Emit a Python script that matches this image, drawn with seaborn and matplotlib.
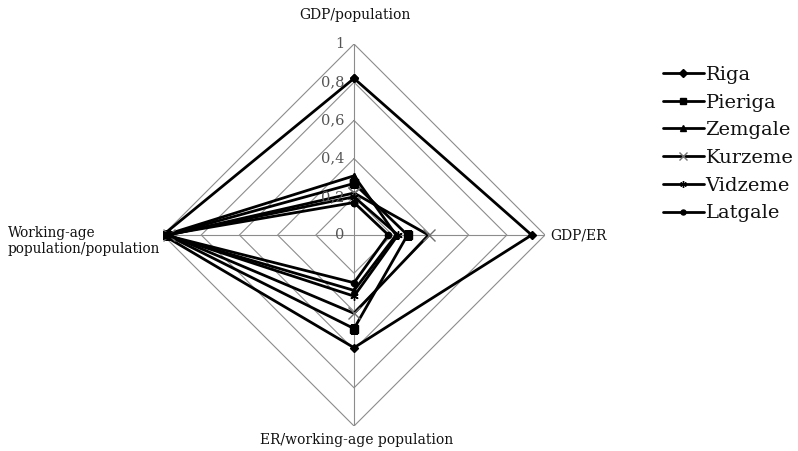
#!/usr/bin/env python3
"""Radar chart of regional indicators (Latvia), four axes, scale 0-1."""

import numpy as np
import pandas as pd
import matplotlib
matplotlib.use("Agg")
import matplotlib.pyplot as plt
import seaborn as sns

# Data
AXES = ["GDP/population", "GDP/ER", "ER/working-age population",
        "Working-age\npopulation/population"]
REGIONS = ["Riga", "Pieriga", "Zemgale", "Kurzeme", "Vidzeme", "Latgale"]
riga = [0.82, 0.93, 0.59, 1.00]
pieriga = [0.27, 0.28, 0.49, 0.98]
zemgale = [0.31, 0.22, 0.29, 0.99]
kurzeme = [0.22, 0.39, 0.41, 0.97]
vidzeme = [0.20, 0.23, 0.32, 0.98]
latgale = [0.17, 0.18, 0.25, 0.99]
TICKS = [0, 0.2, 0.4, 0.6, 0.8, 1]
TICK_LABELS = ["0", "0,2", "0,4", "0,6", "0,8", "1"]

SERIES = [riga, pieriga, zemgale, kurzeme, vidzeme, latgale]
MARKERS = {"Riga": "D", "Pieriga": "s", "Zemgale": "^",
           "Kurzeme": "x", "Vidzeme": (6, 2, 0), "Latgale": "o"}
MSIZE = {"Riga": 4.5, "Pieriga": 5.5, "Zemgale": 5, "Kurzeme": 8,
         "Vidzeme": 6, "Latgale": 4.5}

sns.set_style("white")
plt.rcParams["font.family"] = ["DejaVu Serif"]
plt.rcParams["text.color"] = "#111111"

angles = np.array([0, 0.5, 1.0, 1.5]) * np.pi
closed = np.append(angles, 2 * np.pi)

rows = []
for name, vals in zip(REGIONS, SERIES):
    for th, v in zip(closed, vals + vals[:1]):
        rows.append({"theta": th, "r": v, "region": name})
df = pd.DataFrame(rows)

fig = plt.figure(figsize=(7.98, 4.51), dpi=100)
ax = fig.add_axes([0.2043, 0.0554, 0.4787, 0.847], projection="polar")
ax.set_theta_zero_location("N")
ax.set_theta_direction(-1)
ax.set_ylim(0, 1)
ax.grid(False)
ax.spines["polar"].set_visible(False)
ax.set_xticks([])
ax.set_yticks([])

# diamond grid and spokes
for t in TICKS[1:]:
    ax.plot(closed, [t] * 5, color="#8c8c8c", lw=0.8, zorder=1)
for th in angles:
    ax.plot([th, th], [0, 1], color="#8c8c8c", lw=0.8, zorder=1)

n_before = len(ax.lines)
sns.lineplot(data=df, x="theta", y="r", hue="region",
             palette=["black"] * 6, sort=False, estimator=None,
             linewidth=2.0, legend=False, ax=ax, zorder=3)
lines = ax.lines[n_before:]
for ln, name in zip(lines, REGIONS):
    ln.set_marker(MARKERS[name])
    ln.set_markersize(MSIZE[name])
    ln.set_markerfacecolor("black")
    ln.set_markeredgecolor("#707070" if name == "Kurzeme" else "black")
    ln.set_markeredgewidth(1.0)
ax.set_xlabel("")
ax.set_ylabel("")

for t, lab in zip(TICKS, TICK_LABELS):
    ax.annotate(lab, xy=(0, t), xytext=(-10, 0), textcoords="offset pixels",
                ha="right", va="center", fontsize=10.5, color="#555555")

# axis labels
fs = 10
fig.text(355 / 798, 1 - 15 / 451, AXES[0], ha="center", va="center", fontsize=fs)
fig.text(550 / 798, 1 - 235 / 451, AXES[1], ha="left", va="center", fontsize=fs)
fig.text(357 / 798, 1 - 440 / 451, AXES[2], ha="center", va="center", fontsize=fs)
fig.text(8 / 798, 1 - 241 / 451, AXES[3], ha="left", va="center", fontsize=9.8,
         linespacing=1.2)

fig.legend(lines, REGIONS, loc="upper left", bbox_to_anchor=(655 / 798, 1 - 58 / 451),
           frameon=False, fontsize=14, handlelength=2.1, handletextpad=0.1,
           labelspacing=0.5, borderaxespad=0, markerscale=0.8)

fig.savefig("out.png", dpi=100, facecolor="white")
